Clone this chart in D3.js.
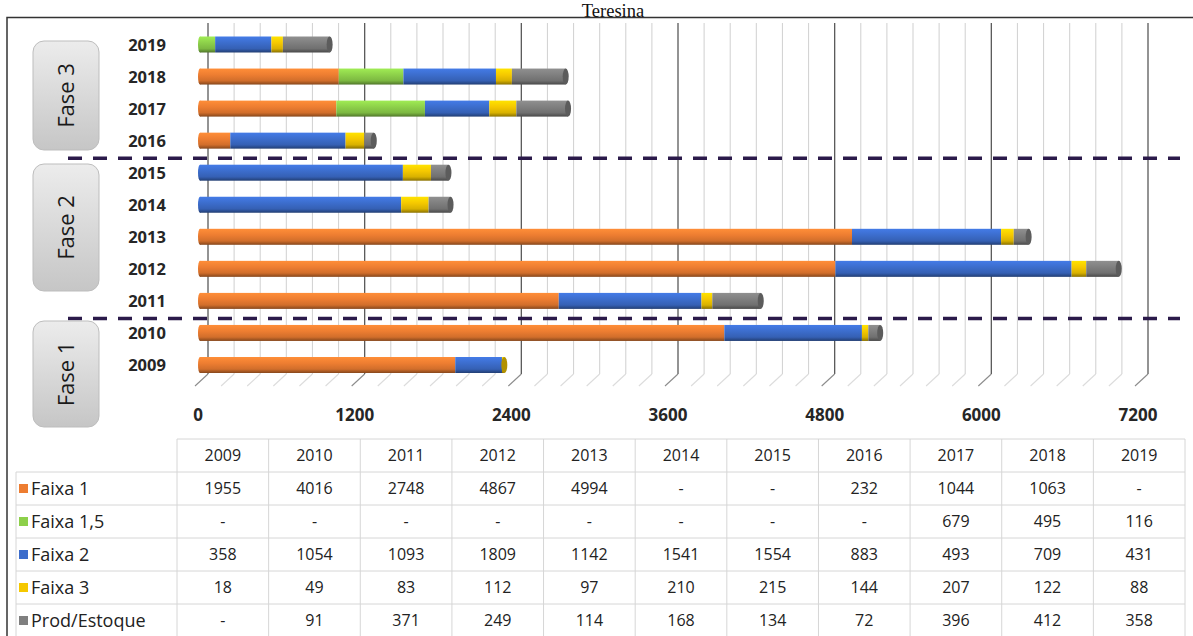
<!DOCTYPE html>
<html>
<head>
<meta charset="utf-8">
<script src="https://cdn.jsdelivr.net/npm/d3@7"></script>
<style>
  body { margin: 0; background: #fff; }
  svg { display: block; }
</style>
</head>
<body>
<svg id="chart" width="1193" height="636"></svg>
<script>
// Unidades contratadas por ano e faixa — Teresina
const years = [2009, 2010, 2011, 2012, 2013, 2014, 2015, 2016, 2017, 2018, 2019];
const seriesNames = ["Faixa 1", "Faixa 1,5", "Faixa 2", "Faixa 3", "Prod/Estoque"];
const faixa1      = [1955, 4016, 2748, 4867, 4994, null, null, 232, 1044, 1063, null];
const faixa15     = [null, null, null, null, null, null, null, null, 679, 495, 116];
const faixa2      = [358, 1054, 1093, 1809, 1142, 1541, 1554, 883, 493, 709, 431];
const faixa3      = [18, 49, 83, 112, 97, 210, 215, 144, 207, 122, 88];
const prodEstoque = [null, 91, 371, 249, 114, 168, 134, 72, 396, 412, 358];
const seriesColors = ["#ED7D31", "#8DD04A", "#3C6DCC", "#F5C800", "#7F7F7F"];
const xTicks = [0, 1200, 2400, 3600, 4800, 6000, 7200];
const phaseLabels = ["Fase 3", "Fase 2", "Fase 1"];
const phaseBreaks = [[2015, 2016], [2010, 2011]];

const seriesValues = [faixa1, faixa15, faixa2, faixa3, prodEstoque];

const svg = d3.select("#chart");
const W = 1193, H = 636;

// title sitting on the frame
svg.append("text")
  .attr("x", 613).attr("y", 16.5)
  .attr("text-anchor", "middle")
  .attr("font-family", "Liberation Serif, serif")
  .attr("font-size", 18.5)
  .attr("fill", "#111")
  .text("Teresina");

// outer frame
svg.append("path")
  .attr("d", `M7,${H + 2} V17.5 H${W + 2}`)
  .attr("fill", "none").attr("stroke", "#333").attr("stroke-width", 1.5);

// scales: front floor edge and back wall (3-D offset)
const x = d3.scaleLinear().domain([0, 7200]).range([195, 1135]);
const depthX = 13, depthY = -12;
const floorY = 386;
const y = d3.scalePoint().domain(years.slice().reverse()).range([44.5, 365]);

const defs = svg.append("defs");

// back-wall grid: minor every 200, major every 1200
const gridTicks = d3.range(0, 7201, 200);
const grid = svg.append("g");
grid.selectAll("line.v").data(gridTicks).join("line")
  .attr("x1", d => x(d) + depthX).attr("x2", d => x(d) + depthX)
  .attr("y1", 23).attr("y2", floorY + depthY)
  .attr("stroke", d => d % 1200 === 0 ? "#595959" : "#d4d4d4")
  .attr("stroke-width", d => d % 1200 === 0 ? 1.3 : 1.1);
grid.selectAll("line.f").data(gridTicks).join("line")
  .attr("x1", d => x(d) + depthX).attr("x2", d => x(d))
  .attr("y1", floorY + depthY).attr("y2", floorY)
  .attr("stroke", d => d % 1200 === 0 ? "#8c8c8c" : "#dcdcdc")
  .attr("stroke-width", 1.1);

// x-axis labels
svg.append("g").selectAll("text").data(xTicks).join("text")
  .attr("x", d => x(d) + 3).attr("y", 421)
  .attr("text-anchor", "middle")
  .attr("font-family", "Open Sans, sans-serif")
  .attr("font-weight", 700)
  .attr("font-size", 17)
  .attr("fill", "#262626")
  .text(d => d);

// cylinder shading per series
seriesColors.forEach((c, i) => {
  const g = defs.append("linearGradient")
    .attr("id", "grad" + i).attr("x1", 0).attr("x2", 0).attr("y1", 0).attr("y2", 1);
  const base = d3.color(c);
  g.append("stop").attr("offset", "0%").attr("stop-color", base.brighter(0.35));
  g.append("stop").attr("offset", "40%").attr("stop-color", base);
  g.append("stop").attr("offset", "76%").attr("stop-color", base.darker(0.35));
  g.append("stop").attr("offset", "100%").attr("stop-color", base.darker(1.6));
});

// stacked bars
const barH = 16;
const barShift = 5;
const rows = years.map((yr, i) => {
  let acc = 0;
  const segs = [];
  seriesValues.forEach((vals, s) => {
    const v = vals[i];
    if (v) {
      segs.push({ s, x0: acc, x1: acc + v });
      acc += v;
    }
  });
  return { yr, segs, total: acc };
});

const bars = svg.append("g");
rows.forEach(r => {
  const gy = y(r.yr) - barH / 2;
  bars.selectAll(null).data(r.segs).join("rect")
    .attr("x", d => x(d.x0) + barShift)
    .attr("width", d => x(d.x1) - x(d.x0))
    .attr("y", gy).attr("height", barH)
    .attr("fill", d => `url(#grad${d.s})`);
  const first = r.segs[0], last = r.segs[r.segs.length - 1];
  // rounded start and end caps
  bars.append("ellipse")
    .attr("cx", x(0) + barShift).attr("cy", y(r.yr))
    .attr("rx", 2).attr("ry", barH / 2)
    .attr("fill", `url(#grad${first.s})`);
  bars.append("ellipse")
    .attr("cx", x(r.total) + barShift).attr("cy", y(r.yr))
    .attr("rx", 3).attr("ry", barH / 2)
    .attr("fill", d3.color(seriesColors[last.s]).darker(0.9));
});

// phase separators
svg.append("g").selectAll("line").data(phaseBreaks).join("line")
  .attr("x1", 68).attr("x2", 1180)
  .attr("y1", d => (y(d[0]) + y(d[1])) / 2 + 1.5)
  .attr("y2", d => (y(d[0]) + y(d[1])) / 2 + 1.5)
  .attr("stroke", "#2b1a4a").attr("stroke-width", 3.5)
  .attr("stroke-dasharray", "14 11");

// year labels
svg.append("g").selectAll("text").data(years).join("text")
  .attr("x", 147).attr("y", d => y(d) + 6)
  .attr("text-anchor", "middle")
  .attr("font-family", "Open Sans, sans-serif")
  .attr("font-weight", 700)
  .attr("font-size", 16.5)
  .attr("fill", "#262626")
  .text(d => d);

// phase boxes
const boxGrad = defs.append("linearGradient").attr("id", "boxGrad")
  .attr("x1", 0).attr("x2", 0).attr("y1", 0).attr("y2", 1);
boxGrad.append("stop").attr("offset", "0%").attr("stop-color", "#ececec");
boxGrad.append("stop").attr("offset", "100%").attr("stop-color", "#c6c6c6");
const boxes = [
  { label: phaseLabels[0], y0: 41, y1: 150 },
  { label: phaseLabels[1], y0: 164, y1: 291 },
  { label: phaseLabels[2], y0: 321, y1: 427 }
];
const bg = svg.append("g");
bg.selectAll("rect").data(boxes).join("rect")
  .attr("x", 33).attr("width", 66)
  .attr("y", d => d.y0).attr("height", d => d.y1 - d.y0)
  .attr("rx", 11)
  .attr("fill", "url(#boxGrad)")
  .attr("stroke", "#bdbdbd").attr("stroke-width", 1);
bg.selectAll("text").data(boxes).join("text")
  .attr("transform", d => `translate(74,${(d.y0 + d.y1) / 2}) rotate(-90)`)
  .attr("text-anchor", "middle")
  .attr("font-family", "Open Sans, sans-serif")
  .attr("font-size", 22)
  .attr("fill", "#1a1a1a")
  .text(d => d.label);

// data table
const tLeft = 16, dLeft = 177, tRight = 1185;
const colW = (tRight - dLeft) / years.length;
const rowTop = 439, rowH = 33;
const tbl = svg.append("g").attr("font-family", "Open Sans, sans-serif").attr("font-size", 16).attr("fill", "#222");
// horizontal rules
const hLines = d3.range(0, seriesNames.length + 2);
tbl.selectAll("line.h").data(hLines).join("line")
  .attr("x1", d => d === 0 ? dLeft : tLeft).attr("x2", tRight)
  .attr("y1", d => rowTop + d * rowH).attr("y2", d => rowTop + d * rowH)
  .attr("stroke", "#d6d6d6").attr("stroke-width", 1);
// vertical rules
const vLines = d3.range(0, years.length + 1);
tbl.selectAll("line.v").data(vLines).join("line")
  .attr("x1", d => dLeft + d * colW).attr("x2", d => dLeft + d * colW)
  .attr("y1", rowTop).attr("y2", H)
  .attr("stroke", "#d6d6d6").attr("stroke-width", 1);
tbl.append("line")
  .attr("x1", tLeft).attr("x2", tLeft).attr("y1", rowTop + rowH).attr("y2", H)
  .attr("stroke", "#d6d6d6");
// header
tbl.selectAll("text.hd").data(years).join("text")
  .attr("x", (d, i) => dLeft + (i + 0.5) * colW)
  .attr("y", rowTop + rowH / 2 + 5.5)
  .attr("text-anchor", "middle")
  .text(d => d);
// series rows
seriesNames.forEach((name, s) => {
  const cy = rowTop + (s + 1.5) * rowH;
  tbl.append("rect")
    .attr("x", 19).attr("y", cy - 4.5).attr("width", 9).attr("height", 9)
    .attr("fill", seriesColors[s]);
  tbl.append("text")
    .attr("x", 31).attr("y", cy + 6)
    .attr("font-size", 18)
    .text(name);
  tbl.selectAll(null).data(seriesValues[s]).join("text")
    .attr("x", (d, i) => dLeft + (i + 0.5) * colW)
    .attr("y", cy + 5.5)
    .attr("text-anchor", "middle")
    .text(d => d == null ? "-" : d);
});
</script>
</body>
</html>
